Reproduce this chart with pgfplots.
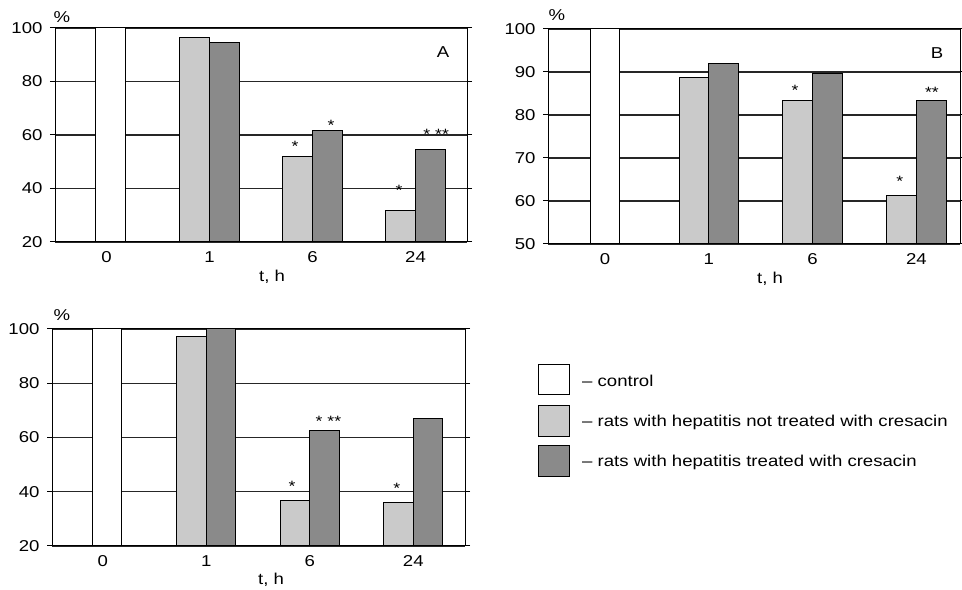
\documentclass[border=0pt]{standalone}
\usepackage{pgfplots}
\pgfplotsset{compat=1.18}
\usepackage{fontspec}
\setmainfont{Liberation Sans}[FakeStretch=1.18]
\definecolor{lightbar}{HTML}{CACACA}
\definecolor{darkbar}{HTML}{8A8A8A}
\pgfplotsset{
  panel/.style={
    scale only axis,
    xmin=-0.5, xmax=3.5,
    xtick={0,1,2,3}, xticklabels={0,1,6,24},
    xtick style={draw=none},
    ytick style={black, line width=1bp},
    tick align=outside, major tick length=5bp,
    ymajorgrids, grid style={black!85, line width=1.1bp},
    axis line style={black, line width=1bp},
    tick label style={font=\fontsize{15.8}{18}\selectfont, text=black},
    yticklabel style={xshift=-4bp},
    xticklabel style={yshift=-1bp},
    /pgf/number format/assume math mode=true,
  },
  ctrl/.style={ybar, bar width=0.287, bar shift=0pt, fill=white, draw=black, line width=1bp},
  lite/.style={ybar, bar width=0.287, bar shift=0pt, fill=lightbar, draw=black, line width=1bp},
  dark/.style={ybar, bar width=0.287, bar shift=0pt, fill=darkbar, draw=black, line width=1bp},
}
\tikzset{
  astx/.style={font=\fontsize{15}{16}\selectfont, inner sep=0pt, yshift=-3.5bp},
  txt/.style={font=\fontsize{15.8}{18}\selectfont, inner sep=0pt},
}
\begin{document}
\begin{tikzpicture}[x=1bp,y=1bp]
\useasboundingbox (0,0) rectangle (962,590);
% ---------- Panel A ----------
\begin{axis}[panel, at={(55bp,348bp)}, anchor=south west, width=412bp, height=214bp,
  ymin=20, ymax=100, ytick={20,40,60,80,100}]
\addplot[ctrl] coordinates {(0.04,100)};
\addplot[lite] coordinates {(0.8565,96.3) (1.8565,51.9) (2.8565,31.8)};
\addplot[dark] coordinates {(1.1435,94.7) (2.1435,61.6) (3.1435,54.5)};
\node[astx] at (axis cs:1.83,57) {*};
\node[astx] at (axis cs:2.18,64.9) {*};
\node[astx] at (axis cs:2.84,40.6) {*};
\node[astx] at (axis cs:3.2,61.5) {*\,\,**};
\end{axis}
\node[txt] at (62,573) {\%};
\node[txt] at (272,313) {t, h};
\node[txt] at (443,538) {A};
% ---------- Panel B ----------
\begin{axis}[panel, at={(548bp,346bp)}, anchor=south west, width=412bp, height=215bp,
  xmin=-0.55, xmax=3.42,
  ymin=50, ymax=100, ytick={50,60,70,80,90,100}]
\addplot[ctrl] coordinates {(0,100)};
\addplot[lite] coordinates {(0.8565,88.8) (1.8565,83.4) (2.8565,61.2)};
\addplot[dark] coordinates {(1.1435,91.9) (2.1435,89.7) (3.1435,83.3)};
\node[astx] at (axis cs:1.83,86.5) {*};
\node[astx] at (axis cs:2.84,65.3) {*};
\node[astx] at (axis cs:3.15,86) {**};
\end{axis}
\node[txt] at (557,575) {\%};
\node[txt] at (770,311) {t, h};
\node[txt] at (937,537) {B};
% ---------- Panel C ----------
\begin{axis}[panel, at={(52bp,44bp)}, anchor=south west, width=413bp, height=217bp,
  xmin=-0.49, xmax=3.5,
  ymin=20, ymax=100, ytick={20,40,60,80,100}]
\addplot[ctrl] coordinates {(0.04,100)};
\addplot[lite] coordinates {(0.8565,97.3) (1.8565,36.7) (2.8565,36.2)};
\addplot[dark] coordinates {(1.1435,100) (2.1435,62.6) (3.1435,66.9)};
\node[astx] at (axis cs:1.83,43.2) {*};
\node[astx] at (axis cs:2.18,67.2) {*\,\,**};
\node[astx] at (axis cs:2.84,42.5) {*};
\end{axis}
\node[txt] at (62,275) {\%};
\node[txt] at (271,10) {t, h};
% ---------- Legend ----------
\draw[black, line width=1bp, fill=white] (538,195) rectangle (569,225);
\draw[black, line width=1bp, fill=lightbar] (538,153) rectangle (569,184);
\draw[black, line width=1bp, fill=darkbar] (538,113) rectangle (569,144);
\node[txt, anchor=west] at (582,209) {– control};
\node[txt, anchor=west] at (582,168) {– rats with hepatitis not treated with cresacin};
\node[txt, anchor=west] at (582,128) {– rats with hepatitis treated with cresacin};
\end{tikzpicture}
\end{document}
